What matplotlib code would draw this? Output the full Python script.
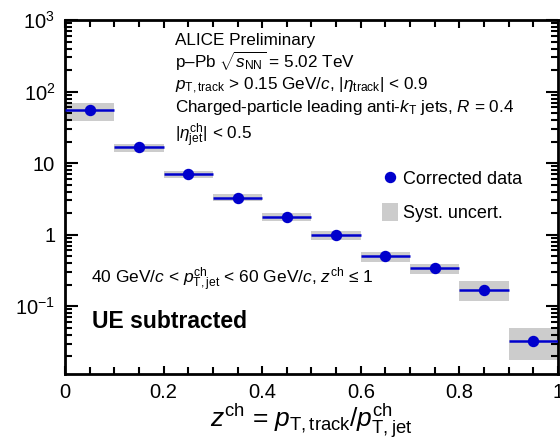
import matplotlib
matplotlib.use("Agg")
import matplotlib.pyplot as plt
from matplotlib.lines import Line2D
from matplotlib.patches import Patch
from matplotlib.ticker import FixedLocator, FuncFormatter, LogLocator, MultipleLocator, NullFormatter

# z^ch bin centres and half widths
z_center = [0.05, 0.15, 0.25, 0.35, 0.45, 0.55, 0.65, 0.75, 0.85, 0.95]
z_halfwidth = [0.05] * 10

# corrected data and systematic band edges
values = [55.0, 16.6, 7.1, 3.3, 1.74, 0.99, 0.50, 0.336, 0.169, 0.033]
syst_low = [38.7, 14.1, 6.2, 2.95, 1.56, 0.84, 0.42, 0.28, 0.117, 0.0179]
syst_high = [69.0, 18.3, 7.7, 3.74, 1.98, 1.13, 0.564, 0.39, 0.224, 0.0497]

ytick_values = [0.1, 1, 10, 100, 1000]
ytick_labels = [r"$10^{-1}$", "1", "10", r"$10^{2}$", r"$10^{3}$"]

info_lines = [
    "ALICE Preliminary",
    r"p–Pb $\sqrt{s_{\rm NN}}$ = 5.02 TeV",
    r"$p_{\rm T,track}$ > 0.15 GeV/$c$, |$\eta_{\rm track}$| < 0.9",
    r"Charged-particle leading anti-$k_{\rm T}$ jets, $R$ = 0.4",
    r"|$\eta^{\rm ch}_{\rm jet}$| < 0.5",
]
info_y = [0.929, 0.866, 0.803, 0.741, 0.661]

blue = "#0000cc"
gray = "#cccccc"

plt.rcParams["font.family"] = ["Liberation Sans", "DejaVu Sans"]
plt.rcParams["mathtext.fontset"] = "custom"
plt.rcParams["mathtext.rm"] = "Liberation Sans"
plt.rcParams["mathtext.it"] = "Liberation Sans:italic"
plt.rcParams["mathtext.bf"] = "Liberation Sans:bold"


def main() -> None:
    fig = plt.figure(figsize=(5.6, 4.41), dpi=100)
    ax = fig.add_axes([0.116, 0.151, 0.8804, 0.8035])

    widths = [2 * w for w in z_halfwidth]
    heights = [h - l for h, l in zip(syst_high, syst_low)]
    ax.bar(z_center, heights, width=widths, bottom=syst_low, color=gray,
           edgecolor="none", zorder=1)
    ax.errorbar(z_center, values, xerr=z_halfwidth, fmt="o", color=blue,
                markersize=7.2, elinewidth=1.8, capsize=0, zorder=3)

    ax.set_yscale("log")
    ax.set_xlim(0, 1)
    ax.set_ylim(0.0111, 1000)

    ax.yaxis.set_major_locator(FixedLocator(ytick_values))
    ax.set_yticklabels(ytick_labels)
    ax.yaxis.set_minor_locator(LogLocator(base=10, subs=range(2, 10), numticks=20))
    ax.yaxis.set_minor_formatter(NullFormatter())

    ax.xaxis.set_major_locator(MultipleLocator(0.2))
    ax.xaxis.set_minor_locator(MultipleLocator(0.05))
    ax.xaxis.set_major_formatter(FuncFormatter(lambda v, p: f"{v:g}"))

    ax.tick_params(which="both", direction="in", top=True, right=True, width=1.5)
    ax.tick_params(axis="y", which="major", length=9, labelsize=14.5, pad=7)
    ax.tick_params(axis="y", which="minor", length=5)
    ax.tick_params(axis="x", which="major", length=6, labelsize=14.5, pad=6)
    ax.tick_params(axis="x", which="minor", length=5)
    for s in ax.spines.values():
        s.set_linewidth(2)

    ax.set_xlabel(r"$z^{\rm ch}$ = $p_{\rm T,track}/p^{\rm ch}_{\rm T,jet}$", fontsize=19)
    ax.xaxis.set_label_coords(0.5, -0.077)
    ax.xaxis.label.set_va("top")

    for line, y in zip(info_lines, info_y):
        ax.text(0.223, y, line, transform=ax.transAxes, fontsize=12.3, va="baseline")

    ax.text(0.052, 0.255, r"40 GeV/$c$ < $p^{\rm ch}_{\rm T,jet}$ < 60 GeV/$c$, $z^{\rm ch}$ ≤ 1",
            transform=ax.transAxes, fontsize=12.5, va="baseline")
    ax.text(0.054, 0.131, "UE subtracted", transform=ax.transAxes, fontsize=16.5,
            fontweight="bold", va="baseline")

    handles = [
        Line2D([], [], marker="o", linestyle="none", color=blue, markersize=7.2),
        Patch(facecolor=gray, edgecolor="none"),
    ]
    ax.legend(handles, ["Corrected data", "Syst. uncert."], loc="upper left",
              bbox_to_anchor=(0.643, 0.58), frameon=False, fontsize=13,
              borderpad=0, borderaxespad=0, handlelength=0.9, handleheight=1.2,
              handletextpad=0.28, labelspacing=0.8)

    fig.savefig("out.png", dpi=100, facecolor="white")


if __name__ == "__main__":
    main()
